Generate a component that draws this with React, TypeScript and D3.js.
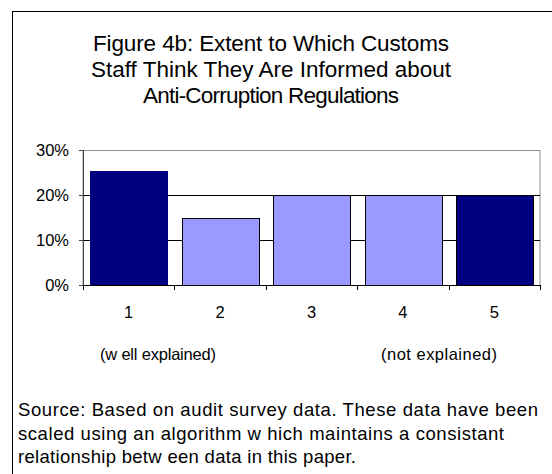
import React from "react";
import * as d3 from "d3";

const categories = ["1", "2", "3", "4", "5"];
const values = [25.3, 15, 20, 20, 20];
const barColors = ["#000080", "#9999ff", "#9999ff", "#9999ff", "#000080"];
const yTicks = [0, 10, 20, 30];
const titleLines = [
  "Figure 4b: Extent to Which Customs",
  "Staff Think They Are Informed about",
  "Anti-Corruption Regulations",
];
const titleWidths = [356, 360, 256];
const sourceLines = [
  "Source: Based on audit survey data. These data have been",
  "scaled using an algorithm w hich maintains a consistant",
  "relationship betw een data in this paper.",
];
const sourceWidths = [520, 486, 338];

const W = 552;
const H = 474;
const plot = { left: 83, right: 540, top: 150, bottom: 285 };
const font = "'Liberation Sans', Arial, sans-serif";

export default function App() {
  const x = d3
    .scaleBand<string>()
    .domain(categories)
    .range([plot.left, plot.right])
    .paddingInner(0.16)
    .paddingOuter(0.08);
  const step = x.step();
  const y = d3.scaleLinear().domain([0, 30]).range([plot.bottom, plot.top]);
  const boundaries = d3.range(categories.length + 1).map((i) => plot.left + i * step);

  return (
    <svg
      width={W}
      height={H}
      style={{ position: "absolute", left: 0, top: 0, background: "#fff" }}
    >
      <rect x={12.5} y={11.5} width={600} height={520} fill="#fff" stroke="#000" strokeWidth={1} />

      {titleLines.map((t, i) => (
        <text
          key={t}
          x={271 - titleWidths[i] / 2}
          y={51 + i * 26}
          textLength={titleWidths[i]}
          lengthAdjust="spacing"
          fontFamily={font}
          fontSize={22.5}
          fill="#000"
        >
          {t}
        </text>
      ))}

      {/* plot frame */}
      <rect
        x={plot.left}
        y={plot.top + 0.5}
        width={plot.right - plot.left}
        height={plot.bottom - plot.top}
        fill="none"
        stroke="#909090"
        strokeWidth={1}
      />

      {/* gridlines */}
      {yTicks
        .filter((t) => t > 0 && t < 30)
        .map((t) => (
          <line
            key={t}
            x1={plot.left}
            x2={plot.right}
            y1={Math.round(y(t)) + 0.5}
            y2={Math.round(y(t)) + 0.5}
            stroke="#000"
          />
        ))}

      {/* bars */}
      {values.map((v, i) => (
        <rect
          key={i}
          x={Math.round(x(categories[i])!) + 0.5}
          y={Math.round(y(v)) + 0.5}
          width={Math.round(x.bandwidth())}
          height={Math.round(y(0)) - Math.round(y(v))}
          fill={barColors[i]}
          stroke={i === 0 ? barColors[i] : "#000"}
          strokeWidth={1}
        />
      ))}

      {/* y axis */}
      <line x1={plot.left + 0.5} x2={plot.left + 0.5} y1={plot.top} y2={plot.bottom + 1} stroke="#444" />
      {yTicks.map((t) => (
        <g key={t}>
          <line
            x1={plot.left - 4}
            x2={plot.left}
            y1={Math.round(y(t)) + 0.5}
            y2={Math.round(y(t)) + 0.5}
            stroke="#444"
          />
          <text
            x={69}
            y={y(t) + 6}
            textAnchor="end"
            fontFamily={font}
            fontSize={16.5}
            fill="#000"
          >
            {`${t}%`}
          </text>
        </g>
      ))}

      {/* x axis */}
      <line x1={plot.left} x2={plot.right + 1} y1={plot.bottom + 0.5} y2={plot.bottom + 0.5} stroke="#000" />
      {boundaries.map((b, i) => (
        <line
          key={i}
          x1={Math.round(b) + 0.5}
          x2={Math.round(b) + 0.5}
          y1={plot.bottom}
          y2={plot.bottom + 5}
          stroke="#000"
        />
      ))}
      {categories.map((c) => (
        <text
          key={c}
          x={x(c)! + x.bandwidth() / 2}
          y={318}
          textAnchor="middle"
          fontFamily={font}
          fontSize={16.5}
          fill="#000"
        >
          {c}
        </text>
      ))}

      <text x={100} y={360} textLength={116} lengthAdjust="spacing" fontFamily={font} fontSize={16.5} fill="#000">
        (w ell explained)
      </text>
      <text x={381} y={360} textLength={116} lengthAdjust="spacing" fontFamily={font} fontSize={16.5} fill="#000">
        (not explained)
      </text>

      {sourceLines.map((t, i) => (
        <text
          key={i}
          x={18}
          y={416 + i * 23.5}
          textLength={sourceWidths[i]}
          lengthAdjust="spacing"
          fontFamily={font}
          fontSize={18.5}
          fill="#000"
        >
          {t}
        </text>
      ))}
    </svg>
  );
}
